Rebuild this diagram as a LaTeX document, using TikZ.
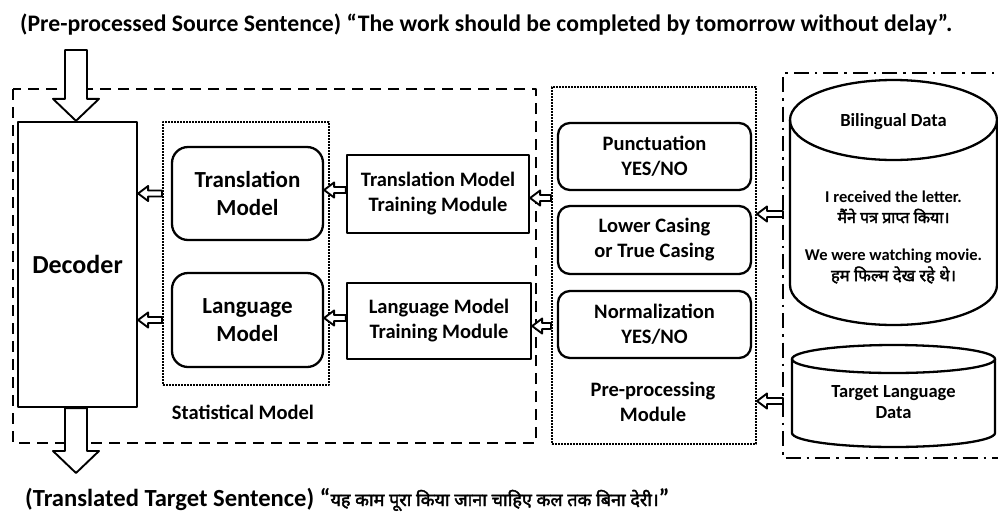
\documentclass[tikz,border=0pt]{standalone}
\usepackage{fontspec}
\setmainfont{Carlito}
\newfontfamily\hindifont[Script=Devanagari,FakeBold=2.2]{Noto Sans}
\newcommand\hindi{\hindifont\mdseries}
\usetikzlibrary{calc}
\newcommand\harrow[2]{% #1 tail, #2 tip (tip to the left)
  \draw[arrowline] (#2) -- ++(10,-7.5) -- ++(0,4.5) -- ($(#1)+(0,-3)$) -- ($(#1)+(0,3)$) -- ($(#2)+(10,3)$) -- ++(0,4.5) -- cycle;}
\newcommand\varrow[2]{% #1 tail (top), #2 tip (below)
  \draw[arrowline] (#2) -- ++(-23,-22) -- ++(12,0) -- ($(#1)+(-11,0)$) -- ($(#1)+(11,0)$) -- ($(#2)+(11,-22)$) -- ++(12,0) -- cycle;}
\begin{document}
\begin{tikzpicture}[x=1pt,y=-1pt,line join=round,
  arrowline/.style={draw,line width=1.9pt,fill=white},
  box/.style={draw,line width=2.3pt,align=center,inner sep=0pt,font=\bfseries\fontsize{20.5}{25}\selectfont},
  rbox/.style={box,rounded corners=12pt},
  mbox/.style={box,rounded corners=16pt,font=\bfseries\fontsize{23}{28}\selectfont},
  dotbox/.style={draw,line width=2pt,dash pattern=on 1.6pt off 1.4pt,inner sep=0pt},
  lbl/.style={align=center,inner sep=0pt,font=\bfseries\fontsize{20.5}{25}\selectfont},
  dlbl/.style={align=center,inner sep=0pt,font=\bfseries\fontsize{16.5}{19}\selectfont},
  cyl/.style={draw,line width=2.3pt}]
\useasboundingbox (0,0) rectangle (998,512);
\clip (0,0) rectangle (998,512);
\fill[white] (0,0) rectangle (998,512);

% title
\node[anchor=base west,inner sep=0pt,font=\bfseries\fontsize{23.7}{28}\selectfont] (title) at (20,31)
  {(Pre-processed Source Sentence) “The work should be completed by tomorrow without delay”.};
\node[anchor=base west,inner sep=0pt,font=\bfseries\fontsize{24.6}{28}\selectfont] (result) at (25,506)
  {(Translated Target Sentence) “{\hindi\fontsize{18}{20}\selectfont यह काम पूरा किया जाना चाहिए कल तक बिना देरी।}”};

% outer frames
\draw[line width=2.5pt,dash pattern=on 11pt off 7pt] (13,89) rectangle (536,443);
\node[dotbox,minimum width=166pt,minimum height=263pt] (stat) at (246,253.5) {};
\node[dotbox,minimum width=204pt,minimum height=357pt] (pre) at (654,265.5) {};
\draw[line width=2.3pt,dash pattern=on 15pt off 6pt on 2.5pt off 6pt] (1015,73) -- (783,73) -- (783,458) -- (1015,458);

% decoder
\node[box,minimum width=119pt,minimum height=285pt,font=\bfseries\fontsize{26}{30}\selectfont] (dec) at (77.5,264.5) {Decoder};

% statistical model
\node[mbox,minimum width=151pt,minimum height=93pt] (tm) at (247.5,193.5) {Translation\\Model};
\node[mbox,minimum width=151pt,minimum height=94pt] (lm) at (247.5,320) {Language\\Model};
\node[lbl] (statlbl) at (243,412) {Statistical Model};

% training modules
\node[box,minimum width=182pt,minimum height=78pt] (tmt) at (438,194) {Translation Model\\Training Module};
\node[box,minimum width=184pt,minimum height=76pt] (lmt) at (439,321) {Language Model\\Training Module};

% pre-processing
\node[rbox,minimum width=193pt,minimum height=67pt] (punc) at (654.5,156.5) {Punctuation\\YES/NO};
\node[rbox,minimum width=193pt,minimum height=68pt] (lower) at (654.5,240) {Lower Casing\\or True Casing};
\node[rbox,minimum width=193pt,minimum height=67pt] (norm) at (654.5,324.5) {Normalization\\YES/NO};
\node[lbl] (prelbl) at (653,401.5) {Pre-processing\\Module};

% bilingual data cylinder
\draw[cyl,fill=white] (790,120) -- (790,285) arc[start angle=180,end angle=0,x radius=103.5,y radius=40] -- (997,120);
\draw[cyl] (893.5,120) ellipse[x radius=103.5,y radius=40];
\node[dlbl,font=\bfseries\fontsize{18.5}{22}\selectfont] (bil) at (893.5,122) {Bilingual Data};
\node[dlbl] (s1) at (893.5,197) {I received the letter.};
\node[dlbl] (h1) at (893.5,216) {\hindi\fontsize{16}{18}\selectfont मैंने पत्र प्राप्त किया।};
\node[dlbl] (s2) at (893.5,256) {We were watching movie.};
\node[dlbl] (h2) at (893.5,275) {\hindi\fontsize{16.5}{18}\selectfont हम फिल्म देख रहे थे।};

% target language data cylinder
\draw[cyl,fill=white] (792,359) -- (792,433) arc[start angle=180,end angle=0,x radius=101.5,y radius=14] -- (995,359);
\draw[cyl] (893.5,359) ellipse[x radius=101.5,y radius=14];
\node[dlbl,font=\bfseries\fontsize{18.5}{21}\selectfont] (tgt) at (893.5,402) {Target Language\\Data};

% connectors
\coordinate (src) at (76,50);
\coordinate (out) at (76,473);
\varrow{src}{dec.north -| src}
\varrow{dec.south -| out}{out}
\harrow{stat.west |- tm.center}{dec.east |- tm.center}
\harrow{stat.west |- lm.center}{dec.east |- lm.center}
\harrow{tmt.west |- 0,190}{tm.east |- 0,190}
\harrow{lmt.west |- 0,318}{lm.east |- 0,318}
\harrow{pre.west |- 0,198}{tmt.east |- 0,198}
\harrow{pre.west |- 0,326}{lmt.east |- 0,326}
\coordinate (d1) at (783,214);
\coordinate (d2) at (783,401);
\harrow{d1}{pre.east |- d1}
\harrow{d2}{pre.east |- d2}
\end{tikzpicture}
\end{document}
